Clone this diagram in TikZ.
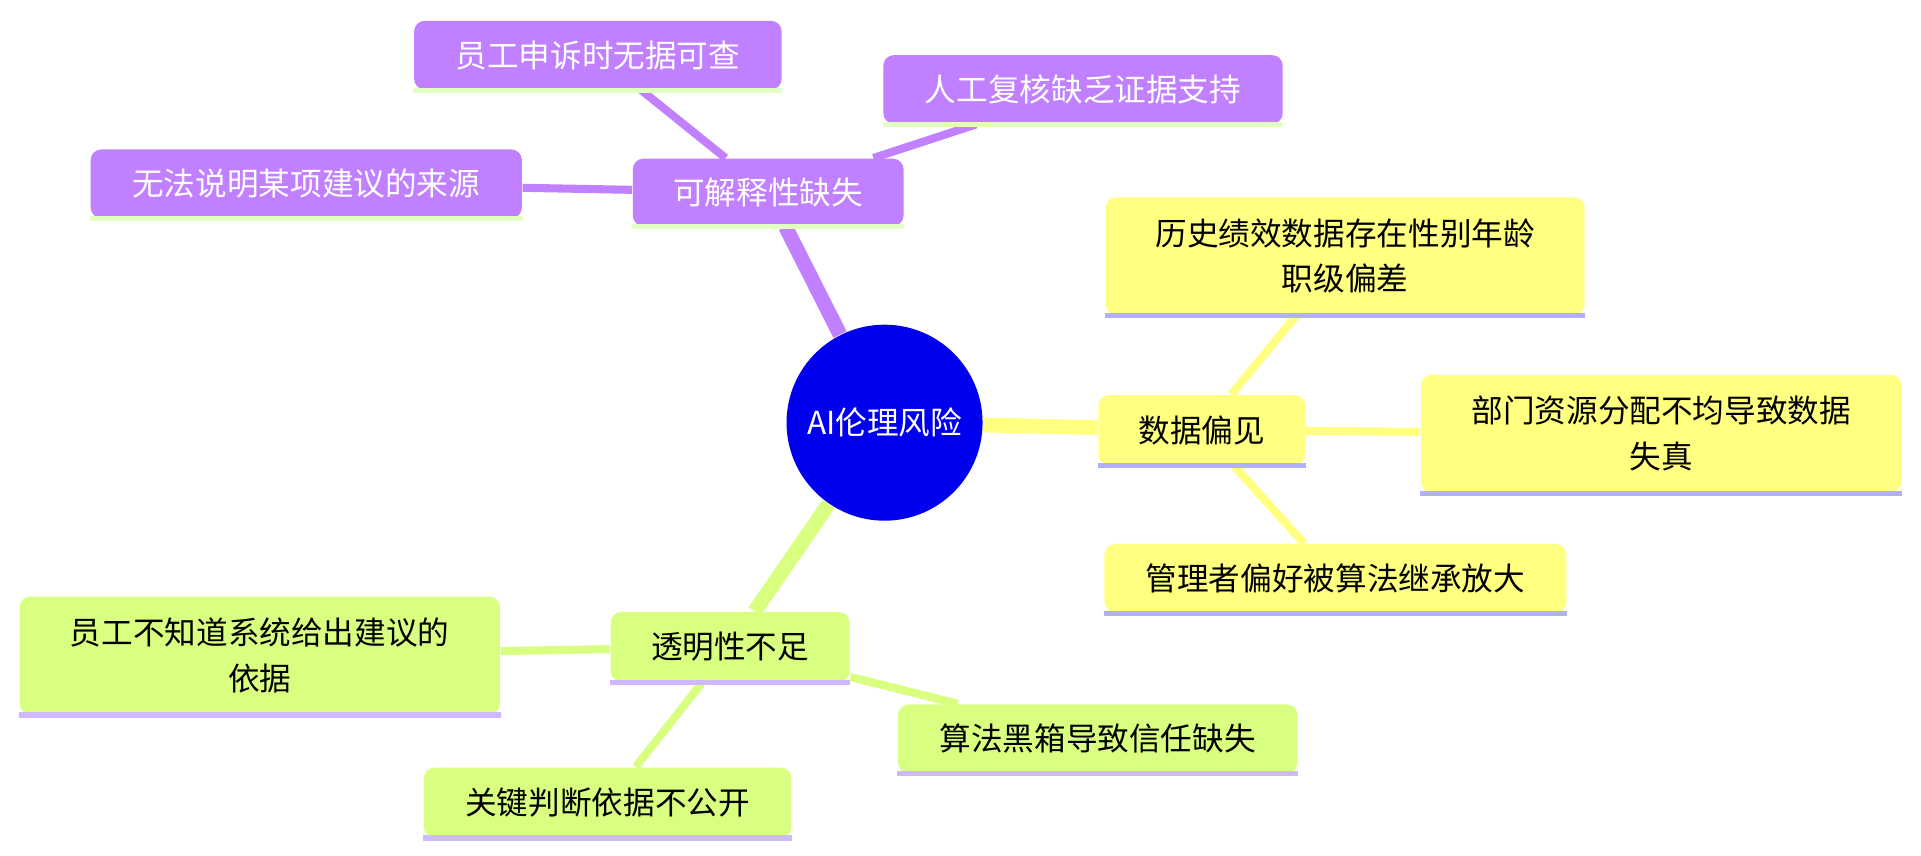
\documentclass[tikz,border=0pt]{standalone}
\usepackage{fontspec}
\setmainfont{Noto Sans CJK SC}
\usetikzlibrary{backgrounds}
\definecolor{purp}{HTML}{C080FF}
\definecolor{yell}{HTML}{FFFF80}
\definecolor{gren}{HTML}{D9FF80}
\definecolor{lgreen}{HTML}{E0FFC0}
\definecolor{lblue}{HTML}{B0B0FF}
\definecolor{lpurp}{HTML}{D0B8FF}
\definecolor{rootblue}{HTML}{0000EE}
\tikzset{
  box/.style={rounded corners=3pt, inner sep=0pt, align=center,
    font=\fontsize{9}{13}\selectfont},
  pbox/.style={box, fill=purp, text=white},
  ybox/.style={box, fill=yell},
  gbox/.style={box, fill=gren},
  mainline/.style={line width=4.2pt},
  leafline/.style={line width=2.3pt},
}
\begin{document}
\begin{tikzpicture}[x=0.01225cm, y=-0.01225cm]
  \useasboundingbox (0,0) rectangle (1568,698);
  % root
  \node[circle, fill=rootblue, text=white, minimum size=160*0.01225cm, inner sep=0pt,
    font=\fontsize{9}{12}\selectfont] (root) at (722,345) {AI伦理风险};
  % explainability
  \node[pbox, minimum width=221*0.01225cm, minimum height=55*0.01225cm] (expl) at (627,157) {可解释性缺失};
  \node[pbox, minimum width=300*0.01225cm, minimum height=56*0.01225cm] (appeal) at (488,45) {员工申诉时无据可查};
  \node[pbox, minimum width=326*0.01225cm, minimum height=56*0.01225cm] (review) at (884,73) {人工复核缺乏证据支持};
  \node[pbox, minimum width=352*0.01225cm, minimum height=56*0.01225cm] (source) at (250,150) {无法说明某项建议的来源};
  % data bias
  \node[ybox, minimum width=169*0.01225cm, minimum height=57*0.01225cm] (bias) at (981,351) {数据偏见};
  \node[ybox, minimum width=391*0.01225cm, minimum height=96*0.01225cm] (hist) at (1098,209) {历史绩效数据存在性别年龄\\职级偏差};
  \node[ybox, minimum width=392*0.01225cm, minimum height=96*0.01225cm] (dept) at (1356,354) {部门资源分配不均导致数据\\失真};
  \node[ybox, minimum width=377*0.01225cm, minimum height=56*0.01225cm] (pref) at (1090,472) {管理者偏好被算法继承放大};
  % transparency
  \node[gbox, minimum width=195*0.01225cm, minimum height=57*0.01225cm] (trans) at (596,528) {透明性不足};
  \node[gbox, minimum width=392*0.01225cm, minimum height=96*0.01225cm] (basis) at (212,535) {员工不知道系统给出建议的\\依据};
  \node[gbox, minimum width=326*0.01225cm, minimum height=56*0.01225cm] (blackbox) at (896,603) {算法黑箱导致信任缺失};
  \node[gbox, minimum width=300*0.01225cm, minimum height=57*0.01225cm] (public) at (496,655) {关键判断依据不公开};
  % bottom lines
  \foreach \n/\c in {expl/lgreen, appeal/lgreen, review/lgreen, source/lgreen,
      bias/lblue, hist/lblue, dept/lblue, pref/lblue,
      trans/lpurp, basis/lpurp, blackbox/lpurp, public/lpurp}
    \draw[\c, line width=1.5pt] (\n.south west) -- (\n.south east);
  % connectors
  \begin{scope}[on background layer]
    \draw[purp, mainline] (root) -- (expl);
    \draw[yell, mainline] (root) -- (bias);
    \draw[gren, mainline] (root) -- (trans);
    \draw[purp, leafline] (expl) -- (appeal);
    \draw[purp, leafline] (expl) -- (review);
    \draw[purp, leafline] (expl) -- (source);
    \draw[yell, leafline] (bias) -- (hist);
    \draw[yell, leafline] (bias) -- (dept);
    \draw[yell, leafline] (bias) -- (pref);
    \draw[gren, leafline] (trans) -- (basis);
    \draw[gren, leafline] (trans) -- (blackbox);
    \draw[gren, leafline] (trans) -- (public);
  \end{scope}
\end{tikzpicture}
\end{document}
